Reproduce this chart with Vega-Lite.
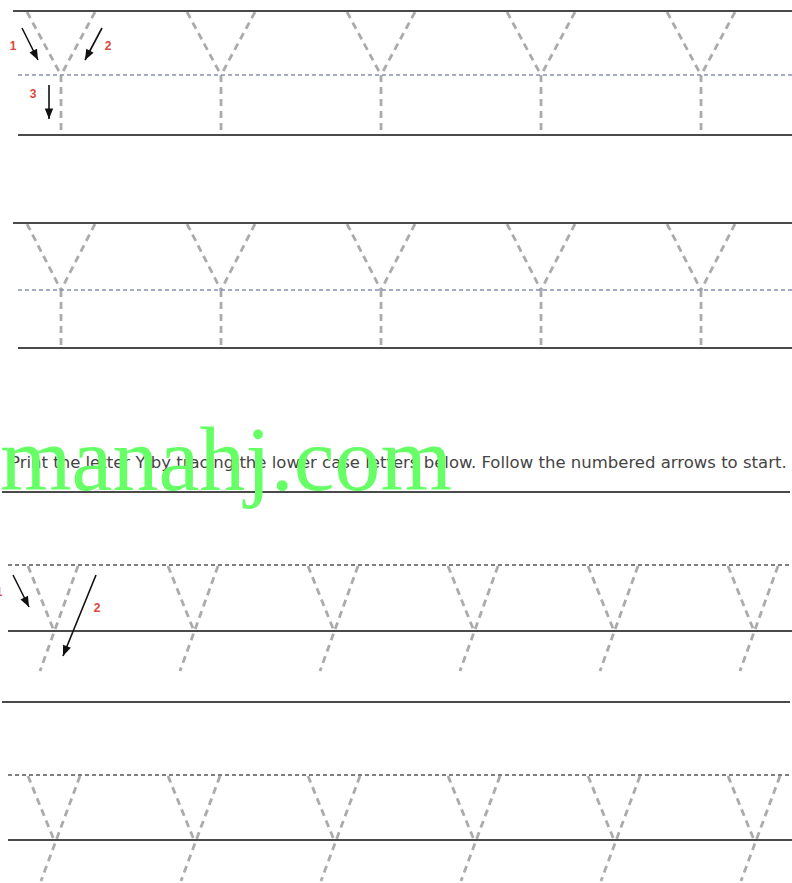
{
  "$schema": "https://vega.github.io/schema/vega-lite/v6.json",
  "width": 792,
  "height": 883,
  "autosize": {"type": "none"},
  "padding": 0,
  "background": "white",
  "config": {"view": {"stroke": null}},
  "datasets": {
    "lines": [
      {"kind": "solid", "x": 13, "y": 11, "x2": 792, "y2": 11},
      {"kind": "solid", "x": 18, "y": 135, "x2": 792, "y2": 135},
      {"kind": "solid", "x": 13, "y": 223, "x2": 792, "y2": 223},
      {"kind": "solid", "x": 18, "y": 348, "x2": 792, "y2": 348},
      {"kind": "solid", "x": 2, "y": 492, "x2": 790, "y2": 492},
      {"kind": "solid", "x": 8, "y": 631, "x2": 792, "y2": 631},
      {"kind": "solid", "x": 2, "y": 702, "x2": 790, "y2": 702},
      {"kind": "solid", "x": 8, "y": 840, "x2": 792, "y2": 840},
      {"kind": "guideU", "x": 18, "y": 75, "x2": 792, "y2": 75},
      {"kind": "guideU", "x": 18, "y": 290, "x2": 792, "y2": 290},
      {"kind": "guideL", "x": 8, "y": 565, "x2": 792, "y2": 565},
      {"kind": "guideL", "x": 8, "y": 775, "x2": 792, "y2": 775},

      {"kind": "trace", "x": 27, "y": 12, "x2": 61, "y2": 75},
      {"kind": "trace", "x": 95, "y": 12, "x2": 61, "y2": 75},
      {"kind": "trace", "x": 61, "y": 75, "x2": 61, "y2": 135},
      {"kind": "trace", "x": 187, "y": 12, "x2": 221, "y2": 75},
      {"kind": "trace", "x": 255, "y": 12, "x2": 221, "y2": 75},
      {"kind": "trace", "x": 221, "y": 75, "x2": 221, "y2": 135},
      {"kind": "trace", "x": 347, "y": 12, "x2": 381, "y2": 75},
      {"kind": "trace", "x": 415, "y": 12, "x2": 381, "y2": 75},
      {"kind": "trace", "x": 381, "y": 75, "x2": 381, "y2": 135},
      {"kind": "trace", "x": 507, "y": 12, "x2": 541, "y2": 75},
      {"kind": "trace", "x": 575, "y": 12, "x2": 541, "y2": 75},
      {"kind": "trace", "x": 541, "y": 75, "x2": 541, "y2": 135},
      {"kind": "trace", "x": 667, "y": 12, "x2": 701, "y2": 75},
      {"kind": "trace", "x": 735, "y": 12, "x2": 701, "y2": 75},
      {"kind": "trace", "x": 701, "y": 75, "x2": 701, "y2": 135},

      {"kind": "trace", "x": 27, "y": 224, "x2": 61, "y2": 290},
      {"kind": "trace", "x": 95, "y": 224, "x2": 61, "y2": 290},
      {"kind": "trace", "x": 61, "y": 290, "x2": 61, "y2": 348},
      {"kind": "trace", "x": 187, "y": 224, "x2": 221, "y2": 290},
      {"kind": "trace", "x": 255, "y": 224, "x2": 221, "y2": 290},
      {"kind": "trace", "x": 221, "y": 290, "x2": 221, "y2": 348},
      {"kind": "trace", "x": 347, "y": 224, "x2": 381, "y2": 290},
      {"kind": "trace", "x": 415, "y": 224, "x2": 381, "y2": 290},
      {"kind": "trace", "x": 381, "y": 290, "x2": 381, "y2": 348},
      {"kind": "trace", "x": 507, "y": 224, "x2": 541, "y2": 290},
      {"kind": "trace", "x": 575, "y": 224, "x2": 541, "y2": 290},
      {"kind": "trace", "x": 541, "y": 290, "x2": 541, "y2": 348},
      {"kind": "trace", "x": 667, "y": 224, "x2": 701, "y2": 290},
      {"kind": "trace", "x": 735, "y": 224, "x2": 701, "y2": 290},
      {"kind": "trace", "x": 701, "y": 290, "x2": 701, "y2": 348},

      {"kind": "trace", "x": 28, "y": 566, "x2": 54, "y2": 631},
      {"kind": "trace", "x": 78, "y": 566, "x2": 40, "y2": 671},
      {"kind": "trace", "x": 168, "y": 566, "x2": 194, "y2": 631},
      {"kind": "trace", "x": 218, "y": 566, "x2": 180, "y2": 671},
      {"kind": "trace", "x": 308, "y": 566, "x2": 334, "y2": 631},
      {"kind": "trace", "x": 358, "y": 566, "x2": 320, "y2": 671},
      {"kind": "trace", "x": 448, "y": 566, "x2": 474, "y2": 631},
      {"kind": "trace", "x": 498, "y": 566, "x2": 460, "y2": 671},
      {"kind": "trace", "x": 588, "y": 566, "x2": 614, "y2": 631},
      {"kind": "trace", "x": 638, "y": 566, "x2": 600, "y2": 671},
      {"kind": "trace", "x": 728, "y": 566, "x2": 754, "y2": 631},
      {"kind": "trace", "x": 778, "y": 566, "x2": 740, "y2": 671},

      {"kind": "trace", "x": 28, "y": 776, "x2": 54, "y2": 840},
      {"kind": "trace", "x": 80, "y": 776, "x2": 41, "y2": 881},
      {"kind": "trace", "x": 168, "y": 776, "x2": 194, "y2": 840},
      {"kind": "trace", "x": 220, "y": 776, "x2": 181, "y2": 881},
      {"kind": "trace", "x": 308, "y": 776, "x2": 334, "y2": 840},
      {"kind": "trace", "x": 360, "y": 776, "x2": 321, "y2": 881},
      {"kind": "trace", "x": 448, "y": 776, "x2": 474, "y2": 840},
      {"kind": "trace", "x": 500, "y": 776, "x2": 461, "y2": 881},
      {"kind": "trace", "x": 588, "y": 776, "x2": 614, "y2": 840},
      {"kind": "trace", "x": 640, "y": 776, "x2": 601, "y2": 881},
      {"kind": "trace", "x": 728, "y": 776, "x2": 754, "y2": 840},
      {"kind": "trace", "x": 780, "y": 776, "x2": 741, "y2": 881}
    ],
    "arrows": [
      {"x": 22, "y": 28, "x2": 38, "y2": 60, "dir": 153},
      {"x": 102, "y": 28, "x2": 85, "y2": 60, "dir": 208},
      {"x": 49, "y": 85, "x2": 49, "y2": 119, "dir": 180},
      {"x": 13, "y": 575, "x2": 29, "y2": 607, "dir": 153},
      {"x": 96, "y": 575, "x2": 63, "y2": 656, "dir": 202}
    ],
    "labels": [
      {"x": 13, "y": 46, "t": "1"},
      {"x": 108, "y": 46, "t": "2"},
      {"x": 33, "y": 94, "t": "3"},
      {"x": -1, "y": 592, "t": "1"},
      {"x": 97, "y": 608, "t": "2"}
    ],
    "texts": [
      {"x": 10, "y": 468, "t": "Print the letter Y by tracing the lower case letters below.  Follow the numbered arrows to start."}
    ],
    "marks": [
      {"x": 0, "y": 490, "t": "manahj.com"}
    ]
  },
  "encoding": {
    "x": {"field": "x", "type": "quantitative", "scale": {"domain": [0, 792], "nice": false, "zero": false}, "axis": null},
    "y": {"field": "y", "type": "quantitative", "scale": {"domain": [0, 883], "nice": false, "zero": false, "reverse": true}, "axis": null}
  },
  "layer": [
    {
      "data": {"name": "lines"},
      "transform": [{"filter": "datum.kind == 'trace'"}],
      "mark": {"type": "rule", "stroke": "#ababab", "strokeWidth": 2.8, "strokeDash": [7, 5]},
      "encoding": {"x2": {"field": "x2"}, "y2": {"field": "y2"}}
    },
    {
      "data": {"name": "lines"},
      "transform": [{"filter": "datum.kind == 'solid'"}],
      "mark": {"type": "rule", "stroke": "#4a4a4a", "strokeWidth": 2},
      "encoding": {"x2": {"field": "x2"}, "y2": {"field": "y2"}}
    },
    {
      "data": {"name": "lines"},
      "transform": [{"filter": "datum.kind == 'guideU'"}],
      "mark": {"type": "rule", "stroke": "#8c8fb8", "strokeWidth": 1.6, "strokeDash": [4, 3]},
      "encoding": {"x2": {"field": "x2"}, "y2": {"field": "y2"}}
    },
    {
      "data": {"name": "lines"},
      "transform": [{"filter": "datum.kind == 'guideL'"}],
      "mark": {"type": "rule", "stroke": "#555555", "strokeWidth": 1.3, "strokeDash": [4, 3]},
      "encoding": {"x2": {"field": "x2"}, "y2": {"field": "y2"}}
    },
    {
      "data": {"name": "arrows"},
      "mark": {"type": "rule", "stroke": "#111111", "strokeWidth": 1.6},
      "encoding": {"x2": {"field": "x2"}, "y2": {"field": "y2"}}
    },
    {
      "data": {"name": "arrows"},
      "mark": {"type": "point", "shape": "M0,0L-0.8,2L0.8,2Z", "filled": true, "color": "#111111", "size": 110, "opacity": 1},
      "encoding": {
        "x": {"field": "x2", "type": "quantitative"},
        "y": {"field": "y2", "type": "quantitative"},
        "angle": {"field": "dir", "type": "quantitative", "scale": null}
      }
    },
    {
      "data": {"name": "labels"},
      "mark": {"type": "text", "font": "Liberation Sans", "fontWeight": "bold", "fontSize": 12, "color": "#d9483b", "align": "center", "baseline": "middle"},
      "encoding": {"text": {"field": "t"}}
    },
    {
      "data": {"name": "texts"},
      "mark": {"type": "text", "font": "DejaVu Sans", "fontSize": 16.5, "color": "#444444", "align": "left", "baseline": "alphabetic"},
      "encoding": {"text": {"field": "t"}}
    },
    {
      "data": {"name": "marks"},
      "mark": {"type": "text", "font": "Liberation Serif", "fontSize": 92, "color": "#66ff66", "align": "left", "baseline": "alphabetic"},
      "encoding": {"text": {"field": "t"}}
    }
  ]
}
